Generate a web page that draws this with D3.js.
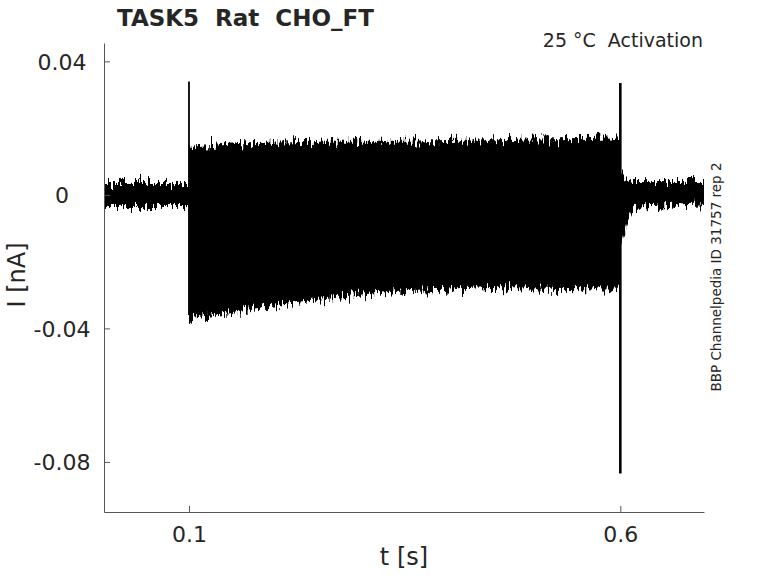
<!DOCTYPE html>
<html>
<head>
<meta charset="utf-8">
<script src="https://cdn.jsdelivr.net/npm/d3@7"></script>
<style>
  body { margin: 0; background: #fff; }
  text { font-family: "DejaVu Sans", sans-serif; fill: #262626; white-space: pre; }
</style>
</head>
<body>
<div id="chart"></div>
<script>
// time window of the recording (s)
const recordStart = 0.0015;
const recordEnd = 0.697;

// holding current before and after the step (nA)
const holdBefore = 0.0;
const holdAfter = 0.0007;

// step phase: mean current of each sweep at these times (nA)
const stepTimes = [0.1, 0.15, 0.25, 0.35, 0.45, 0.6];
const stepLevels = [
  [ 0.0110,  0.0120,  0.0125,  0.0125,  0.0130,  0.0135],
  [ 0.0080,  0.0090,  0.0095,  0.0095,  0.0100,  0.0105],
  [ 0.0050,  0.0060,  0.0065,  0.0065,  0.0070,  0.0075],
  [ 0.0020,  0.0030,  0.0035,  0.0035,  0.0040,  0.0045],
  [-0.0010,  0.0000,  0.0005,  0.0005,  0.0010,  0.0015],
  [-0.0040, -0.0030, -0.0025, -0.0025, -0.0020, -0.0015],
  [-0.0080, -0.0065, -0.0060, -0.0055, -0.0050, -0.0045],
  [-0.0120, -0.0100, -0.0090, -0.0085, -0.0080, -0.0075],
  [-0.0160, -0.0135, -0.0120, -0.0115, -0.0110, -0.0105],
  [-0.0200, -0.0170, -0.0155, -0.0145, -0.0140, -0.0135],
  [-0.0240, -0.0210, -0.0185, -0.0175, -0.0170, -0.0165],
  [-0.0270, -0.0250, -0.0220, -0.0200, -0.0195, -0.0190],
  [-0.0300, -0.0280, -0.0250, -0.0225, -0.0220, -0.0215],
  [-0.0335, -0.0320, -0.0280, -0.0255, -0.0245, -0.0250]
];

// tail currents after the step (nA)
const tailTimes = [0.6, 0.604, 0.609, 0.615];
const tailLevels = [
  [ 0.0030,  0.0020,  0.0012, 0.0007],
  [ 0.0025,  0.0017,  0.0010, 0.0007],
  [ 0.0020,  0.0014,  0.0010, 0.0007],
  [ 0.0015,  0.0012,  0.0009, 0.0007],
  [ 0.0008,  0.0008,  0.0007, 0.0007],
  [ 0.0000,  0.0003,  0.0005, 0.0007],
  [-0.0015, -0.0007,  0.0002, 0.0007],
  [-0.0030, -0.0017, -0.0003, 0.0007],
  [-0.0045, -0.0027, -0.0008, 0.0006],
  [-0.0060, -0.0037, -0.0013, 0.0005],
  [-0.0075, -0.0047, -0.0018, 0.0004],
  [-0.0090, -0.0057, -0.0025, 0.0002],
  [-0.0105, -0.0068, -0.0032, 0.0000],
  [-0.0120, -0.0080, -0.0040, -0.0005]
];

// half width of the recording noise around each sweep (nA)
const noiseHalf = 0.0034;

// capacitive transients at the step edges
const spikeTimes = [0.1, 0.6];
const spikeMax = [0.034, 0.0335];
const spikeMin = [-0.036, -0.0835];

const xTicks = [0.1, 0.6];
const xTickLabels = ["0.1", "0.6"];
const yTicks = [-0.08, -0.04, 0, 0.04];
const yTickLabels = ["-0.08", "-0.04", "0", "0.04"];

const width = 778, height = 583;
const plot = { left: 104, right: 704, top: 43, bottom: 512 };

const svg = d3.select("#chart").append("svg")
  .attr("width", width)
  .attr("height", height);

// rough texture for the noisy traces (vertical jitter only)
const filter = svg.append("defs").append("filter")
  .attr("id", "jitter")
  .attr("x", "-1%").attr("y", "-20%")
  .attr("width", "102%").attr("height", "140%");
filter.append("feTurbulence")
  .attr("type", "fractalNoise")
  .attr("baseFrequency", "0.45 0.07")
  .attr("numOctaves", 2)
  .attr("seed", 4)
  .attr("result", "turb");
filter.append("feColorMatrix")
  .attr("in", "turb")
  .attr("type", "matrix")
  .attr("values", "0 0 0 0 0.5  0 1 0 0 0  0 0 0 0 0  0 0 0 0 1")
  .attr("result", "map");
filter.append("feDisplacementMap")
  .attr("in", "SourceGraphic")
  .attr("in2", "map")
  .attr("scale", 24)
  .attr("xChannelSelector", "R")
  .attr("yChannelSelector", "G");

const x = d3.scaleLinear()
  .domain([recordStart, recordEnd])
  .range([plot.left, plot.right]);

const y = d3.scaleLinear()
  .domain([-0.095, 0.0455])
  .range([plot.bottom, plot.top]);

// build each sweep from the hold, step and tail pieces
const sweeps = stepLevels.map((levels, i) => {
  const pts = [[recordStart, holdBefore], [stepTimes[0], holdBefore]];
  stepTimes.forEach((t, j) => pts.push([t, levels[j]]));
  tailTimes.forEach((t, j) => pts.push([t, tailLevels[i][j]]));
  pts.push([recordEnd, holdAfter]);
  return pts;
});

const band = d3.area()
  .x(d => x(d[0]))
  .y0(d => y(d[1] - noiseHalf))
  .y1(d => y(d[1] + noiseHalf));

svg.append("g")
  .attr("filter", "url(#jitter)")
  .selectAll("path")
  .data(sweeps)
  .join("path")
  .attr("d", band)
  .attr("fill", "#000");

svg.append("g")
  .selectAll("line")
  .data(spikeTimes)
  .join("line")
  .attr("x1", d => x(d))
  .attr("x2", d => x(d))
  .attr("y1", (d, i) => y(spikeMax[i]))
  .attr("y2", (d, i) => y(spikeMin[i]))
  .attr("stroke", "#000")
  .attr("stroke-width", (d, i) => i === 0 ? 1.8 : 2.6);

// axes, ticks pointing inward like the original
const yAxis = svg.append("g")
  .attr("transform", `translate(${plot.left},0)`)
  .call(d3.axisLeft(y)
    .tickValues(yTicks)
    .tickFormat((d, i) => yTickLabels[i])
    .tickSizeInner(-6)
    .tickSizeOuter(0));

const xAxis = svg.append("g")
  .attr("transform", `translate(0,${plot.bottom})`)
  .call(d3.axisBottom(x)
    .tickValues(xTicks)
    .tickFormat((d, i) => xTickLabels[i])
    .tickSizeInner(-6)
    .tickSizeOuter(0));

[yAxis, xAxis].forEach(a => {
  a.select(".domain").attr("stroke", "#555").attr("stroke-width", 1);
  a.selectAll(".tick line").attr("stroke", "#555");
  a.selectAll(".tick text")
    .style("font-size", "22px")
    .attr("fill", "#262626");
});

yAxis.selectAll(".tick text")
  .attr("text-anchor", "middle")
  .attr("x", -42)
  .attr("dy", "0.36em");

xAxis.selectAll(".tick text")
  .attr("y", 14)
  .attr("dy", "0.71em");

// labels
svg.append("text")
  .attr("x", (plot.left + plot.right) / 2)
  .attr("y", 565)
  .attr("text-anchor", "middle")
  .style("font-size", "24px")
  .text("t [s]");

svg.append("text")
  .attr("transform", "translate(25,275) rotate(-90)")
  .attr("text-anchor", "middle")
  .style("font-size", "24px")
  .text("I [nA]");

svg.append("text")
  .attr("x", 117)
  .attr("y", 26)
  .style("font-size", "23px")
  .style("font-weight", "bold")
  .attr("fill", "#000")
  .text("TASK5  Rat  CHO_FT");

svg.append("text")
  .attr("x", 703)
  .attr("y", 47)
  .attr("text-anchor", "end")
  .style("font-size", "19px")
  .attr("fill", "#000")
  .text("25 °C  Activation");

svg.append("text")
  .attr("transform", "translate(721,277) rotate(-90)")
  .attr("text-anchor", "middle")
  .style("font-size", "13.5px")
  .attr("fill", "#000")
  .text("BBP Channelpedia ID 31757 rep 2");
</script>
</body>
</html>
